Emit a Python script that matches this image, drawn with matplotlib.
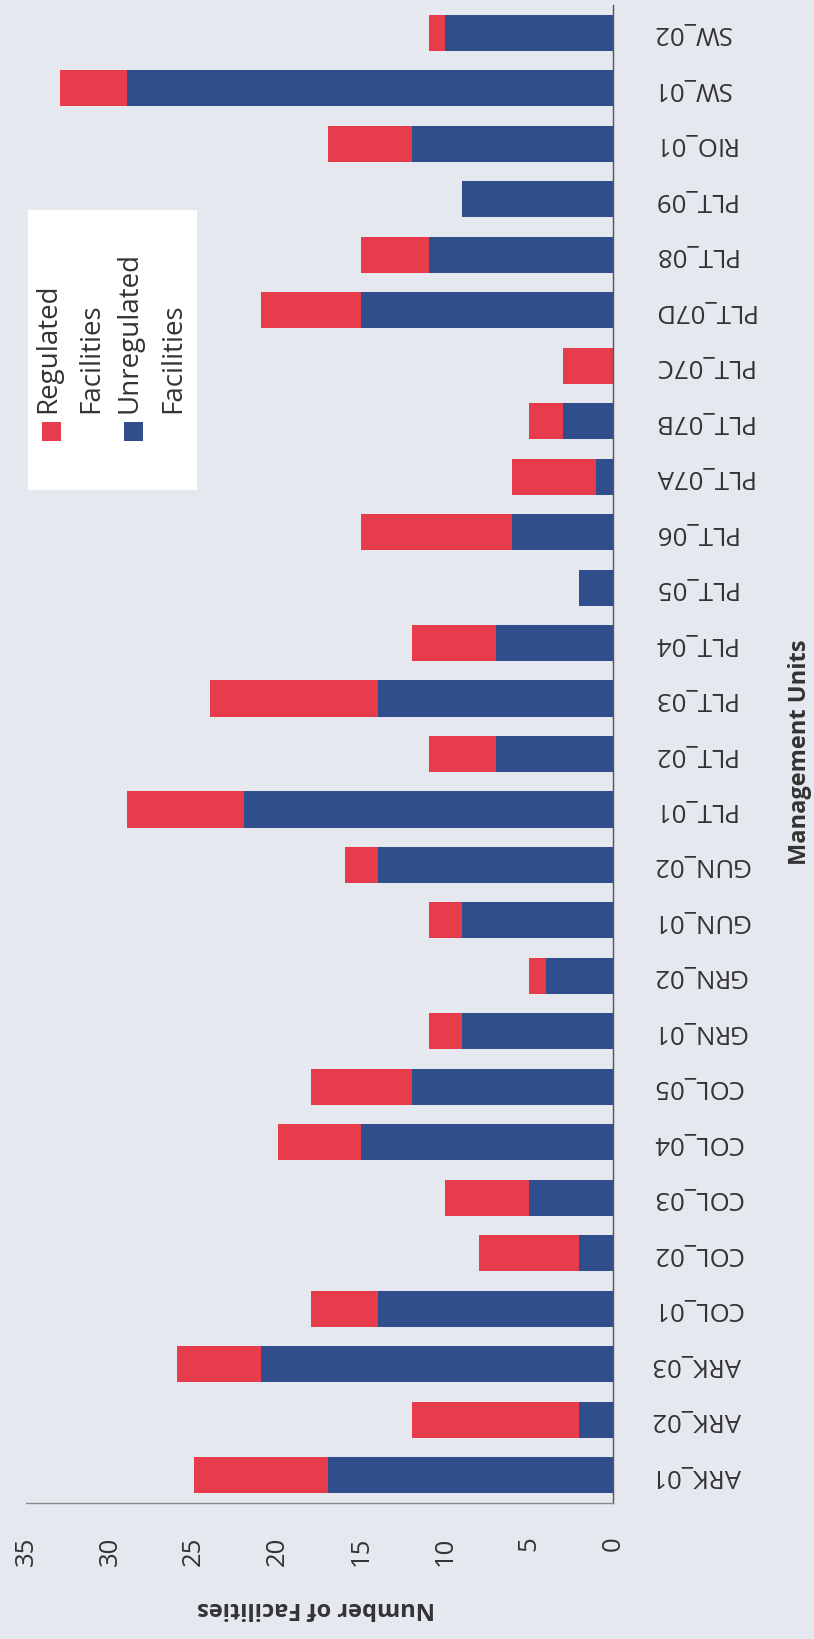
#
#   Stacked bar chart of facilities per management unit
#   (the page is scanned sideways, so the chart is drawn turned by 90 degrees)
#

#   IMPORT MODULES
import matplotlib
matplotlib.use("Agg")
from matplotlib import pyplot as plt
from matplotlib.patches import Rectangle
import numpy as np

#   DATA
# Management units, from the bottom of the page to the top
units = ["ARK_01", "ARK_02", "ARK_03", "COL_01", "COL_02", "COL_03", "COL_04",
         "COL_05", "GRN_01", "GRN_02", "GUN_01", "GUN_02", "PLT_01", "PLT_02",
         "PLT_03", "PLT_04", "PLT_05", "PLT_06", "PLT_07A", "PLT_07B",
         "PLT_07C", "PLT_07D", "PLT_08", "PLT_09", "RIO_01", "SW_01", "SW_02"]
# Number of unregulated facilities (blue part of the bar)
unregulated = [17, 2, 21, 14, 2, 5, 15, 12, 9, 4, 9, 14, 22, 7, 14, 7, 2, 6, 1, 3,
               0, 15, 11, 9, 12, 29, 10]
# Number of regulated facilities (red part, stacked on the blue part)
regulated = [8, 10, 5, 4, 6, 5, 5, 6, 2, 1, 2, 2, 7, 4, 10, 5, 0, 9, 5, 2,
             3, 6, 4, 0, 5, 4, 1]
# Value axis ticks
valueTicks = [0, 5, 10, 15, 20, 25, 30, 35]
# Legend entries
legendLabels = ["Regulated\nFacilities", "Unregulated\nFacilities"]

#   STYLE
red = "#E63C4C"
blue = "#304E8C"
paper = "#E5E8EF"
textColor = "#333333"
plt.rcParams["font.family"] = ["Open Sans", "DejaVu Sans"]

#   PLOT
W, H = 814, 1639
fig = plt.figure(figsize=(W/100, H/100), dpi=100, facecolor=paper)
# Axes placed in pixel positions of the reference
ax = fig.add_axes([26/W, 1-1503/H, (613-26)/W, (1503-5)/H], facecolor=paper)

pos = np.arange(len(units))
# Blue part first, then red part on top of it
ax.barh(pos, unregulated, height=0.65, color=blue, label=legendLabels[1])
ax.barh(pos, regulated, left=unregulated, height=0.65, color=red,
        label=legendLabels[0])

# Value axis runs from right (0) to left (35)
ax.set_xlim(35, 0)
ax.set_ylim(-0.5, len(units)-0.5)

# Category labels on the right, upside down
ax.yaxis.tick_right()
ax.set_yticks(pos)
ax.set_yticklabels(units, rotation=180, va="center", fontsize=18.5,
                   color=textColor)
ax.tick_params(axis="y", length=0, pad=28)
# Value labels at the bottom, turned by 90 degrees
ax.set_xticks(valueTicks)
ax.set_xticklabels([str(v) for v in valueTicks], rotation=90, va="top",
                   ha="center", fontsize=18.5, color=textColor)
ax.tick_params(axis="x", length=0, pad=24)

# Only the zero line and the base line are visible
ax.spines["left"].set_visible(False)
ax.spines["top"].set_visible(False)
ax.spines["right"].set_color("#555555")
ax.spines["right"].set_linewidth(1.0)
ax.spines["bottom"].set_color("#8a8a8a")
ax.spines["bottom"].set_linewidth(1.0)

# Axis titles
fig.text(316/W, 1-1608/H, "Number of Facilities", rotation=180, ha="center",
         va="center", fontsize=17, fontweight="bold", color=textColor)
fig.text(800/W, 1-752/H, "Management Units", rotation=90, ha="center",
         va="center", fontsize=17, fontweight="bold", color=textColor)

# Legend, drawn by hand because its text is turned as well
fig.patches.append(Rectangle((28/W, 1-490/H), (197-28)/W, (490-210)/H,
                             transform=fig.transFigure, facecolor="white",
                             edgecolor="none", zorder=1))
for x0, color in [(42, red), (124, blue)]:
    fig.patches.append(Rectangle((x0/W, 1-441/H), 19/W, 19/H,
                                 transform=fig.transFigure, facecolor=color,
                                 edgecolor="none", zorder=2))
fig.text(34/W, 1-413/H, legendLabels[0], rotation=90, ha="left", va="bottom",
         multialignment="left", fontsize=20, linespacing=1.72, color=textColor)
fig.text(116/W, 1-413/H, legendLabels[1], rotation=90, ha="left", va="bottom",
         multialignment="left", fontsize=20, linespacing=1.72, color=textColor)

# Save as image file
plt.savefig("out.png", dpi=100, facecolor=paper)
